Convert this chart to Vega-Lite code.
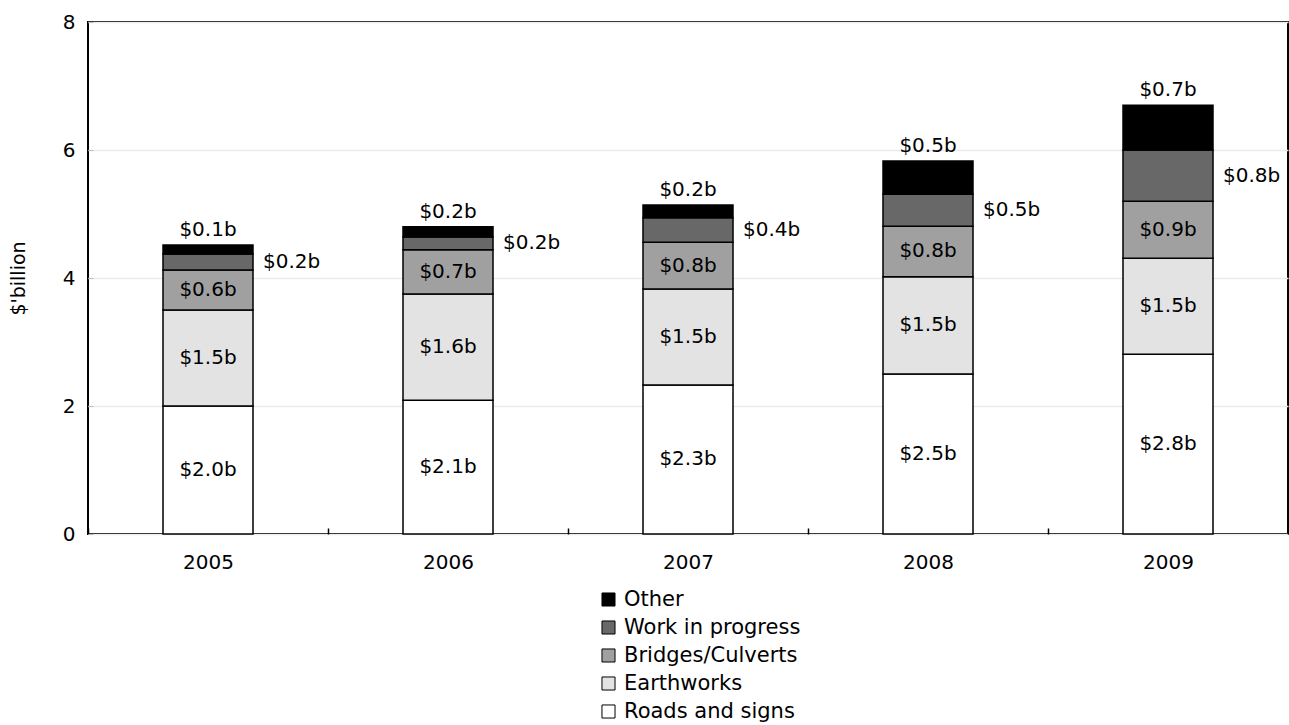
{
  "$schema": "https://vega.github.io/schema/vega-lite/v6.json",
  "width": 1200,
  "height": 512,
  "autosize": {"type": "none"},
  "padding": {"left": 88, "top": 22, "right": 1, "bottom": 191},
  "background": "white",
  "config": {
    "font": "DejaVu Sans",
    "view": {"stroke": "black", "strokeWidth": 2},
    "axis": {"labelFont": "DejaVu Sans", "titleFont": "DejaVu Sans", "labelColor": "black", "titleColor": "black"}
  },
  "data": {
    "values": [
      {"year": "2005", "category": "Roads and signs", "order": 1, "value": 2.0, "label": "$2.0b"},
      {"year": "2005", "category": "Earthworks", "order": 2, "value": 1.5, "label": "$1.5b"},
      {"year": "2005", "category": "Bridges/Culverts", "order": 3, "value": 0.625, "label": "$0.6b"},
      {"year": "2005", "category": "Work in progress", "order": 4, "value": 0.25, "label": "$0.2b"},
      {"year": "2005", "category": "Other", "order": 5, "value": 0.14, "label": "$0.1b"},
      {"year": "2006", "category": "Roads and signs", "order": 1, "value": 2.09, "label": "$2.1b"},
      {"year": "2006", "category": "Earthworks", "order": 2, "value": 1.66, "label": "$1.6b"},
      {"year": "2006", "category": "Bridges/Culverts", "order": 3, "value": 0.69, "label": "$0.7b"},
      {"year": "2006", "category": "Work in progress", "order": 4, "value": 0.2, "label": "$0.2b"},
      {"year": "2006", "category": "Other", "order": 5, "value": 0.16, "label": "$0.2b"},
      {"year": "2007", "category": "Roads and signs", "order": 1, "value": 2.33, "label": "$2.3b"},
      {"year": "2007", "category": "Earthworks", "order": 2, "value": 1.5, "label": "$1.5b"},
      {"year": "2007", "category": "Bridges/Culverts", "order": 3, "value": 0.73, "label": "$0.8b"},
      {"year": "2007", "category": "Work in progress", "order": 4, "value": 0.38, "label": "$0.4b"},
      {"year": "2007", "category": "Other", "order": 5, "value": 0.2, "label": "$0.2b"},
      {"year": "2008", "category": "Roads and signs", "order": 1, "value": 2.5, "label": "$2.5b"},
      {"year": "2008", "category": "Earthworks", "order": 2, "value": 1.52, "label": "$1.5b"},
      {"year": "2008", "category": "Bridges/Culverts", "order": 3, "value": 0.79, "label": "$0.8b"},
      {"year": "2008", "category": "Work in progress", "order": 4, "value": 0.5, "label": "$0.5b"},
      {"year": "2008", "category": "Other", "order": 5, "value": 0.52, "label": "$0.5b"},
      {"year": "2009", "category": "Roads and signs", "order": 1, "value": 2.81, "label": "$2.8b"},
      {"year": "2009", "category": "Earthworks", "order": 2, "value": 1.5, "label": "$1.5b"},
      {"year": "2009", "category": "Bridges/Culverts", "order": 3, "value": 0.89, "label": "$0.9b"},
      {"year": "2009", "category": "Work in progress", "order": 4, "value": 0.8, "label": "$0.8b"},
      {"year": "2009", "category": "Other", "order": 5, "value": 0.7, "label": "$0.7b"}
    ]
  },
  "transform": [
    {"stack": "value", "groupby": ["year"], "sort": [{"field": "order", "order": "ascending"}], "as": ["y0", "y1"]},
    {"calculate": "(datum.y0 + datum.y1) / 2", "as": "ymid"}
  ],
  "encoding": {
    "x": {
      "field": "year", "type": "nominal",
      "scale": {"paddingInner": 0, "paddingOuter": 0},
      "axis": {"title": null, "labelAngle": 0, "labelFontSize": 20, "domain": false, "tickBand": "extent", "tickSize": -6, "tickColor": "black", "tickWidth": 1.5, "labelPadding": 24, "grid": false}
    }
  },
  "layer": [
    {
      "mark": {"type": "bar", "size": 90, "stroke": "black", "strokeWidth": 1.5},
      "encoding": {
        "y": {
          "field": "y0", "type": "quantitative",
          "scale": {"domain": [0, 8], "nice": false},
          "axis": {"title": "$'billion", "titleFontSize": 19, "titleFontWeight": "normal", "titlePadding": 34, "values": [0, 2, 4, 6, 8], "format": "d", "labelFontSize": 20, "labelPadding": 18, "domain": false, "tickSize": -5, "tickColor": "#bbbbbb", "gridColor": "#ebebeb", "gridWidth": 1.5}
        },
        "y2": {"field": "y1"},
        "color": {
          "field": "category", "type": "nominal",
          "scale": {
            "domain": ["Roads and signs", "Earthworks", "Bridges/Culverts", "Work in progress", "Other"],
            "range": ["#ffffff", "#e3e3e3", "#a0a0a0", "#686868", "#000000"]
          },
          "legend": {
            "title": null,
            "orient": "none",
            "legendX": 510,
            "legendY": 567,
            "values": ["Other", "Work in progress", "Bridges/Culverts", "Earthworks", "Roads and signs"],
            "symbolType": "square",
            "symbolSize": 170,
            "symbolStrokeColor": "black",
            "symbolStrokeWidth": 1,
            "labelFontSize": 21,
            "labelLimit": 500,
            "labelColor": "black",
            "labelFont": "DejaVu Sans",
            "rowPadding": 6,
            "labelOffset": 5
          }
        }
      }
    },
    {
      "transform": [{"filter": {"field": "category", "oneOf": ["Roads and signs", "Earthworks", "Bridges/Culverts"]}}],
      "mark": {"type": "text", "fontSize": 20, "baseline": "middle", "align": "center", "color": "black"},
      "encoding": {
        "y": {"field": "ymid", "type": "quantitative"},
        "text": {"field": "label"}
      }
    },
    {
      "transform": [{"filter": {"field": "category", "equal": "Work in progress"}}],
      "mark": {"type": "text", "fontSize": 20, "baseline": "middle", "align": "left", "xOffset": 55, "color": "black"},
      "encoding": {
        "y": {"field": "ymid", "type": "quantitative"},
        "text": {"field": "label"}
      }
    },
    {
      "transform": [{"filter": {"field": "category", "equal": "Other"}}],
      "mark": {"type": "text", "fontSize": 20, "baseline": "bottom", "align": "center", "dy": -5, "color": "black"},
      "encoding": {
        "y": {"field": "y1", "type": "quantitative"},
        "text": {"field": "label"}
      }
    }
  ]
}
